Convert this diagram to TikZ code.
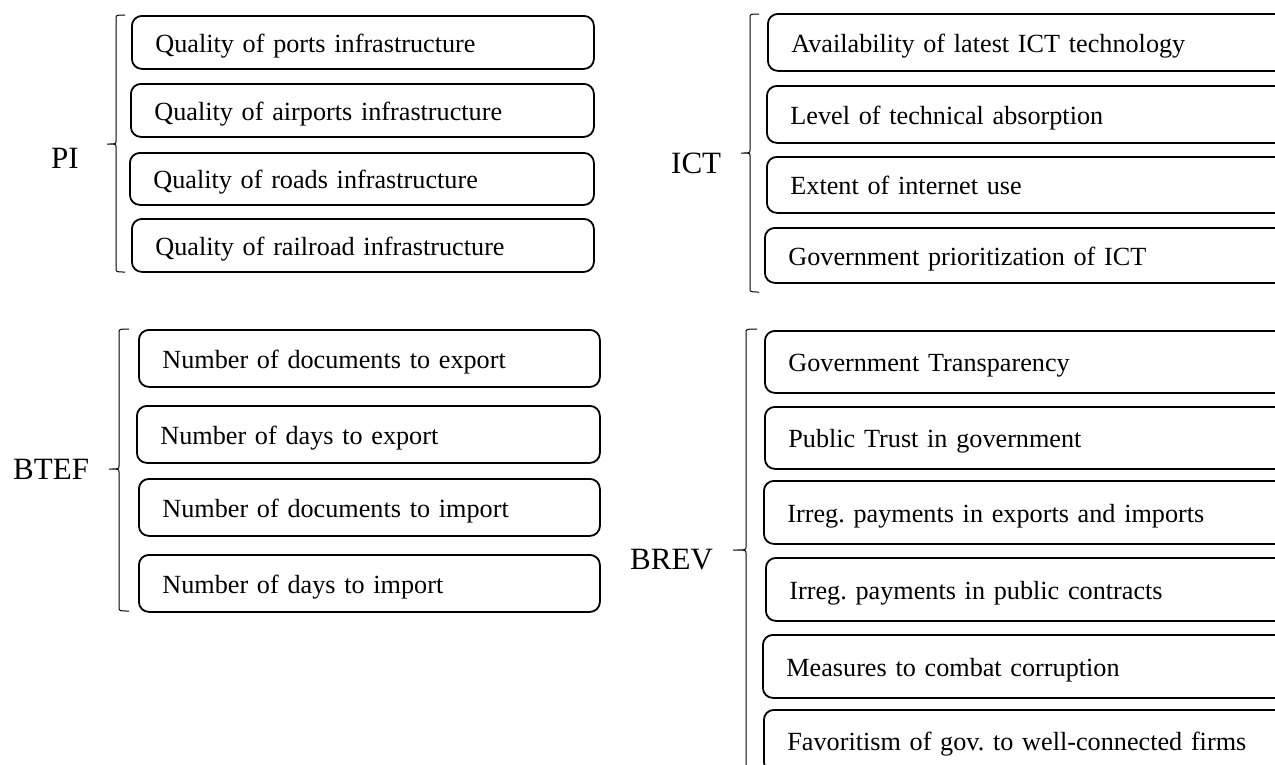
\documentclass[tikz,border=0pt]{standalone}
\usepackage{fontspec}
\setmainfont{Liberation Serif}
\frenchspacing
\tikzset{
    itembox/.style={draw, line width=1.8pt, rounded corners=10pt, anchor=north west, align=left,
        inner xsep=23.5pt, inner ysep=0pt, text height=20pt, text depth=0pt,
        font=\fontsize{26.2}{30}\selectfont},
    grouplabel/.style={anchor=base west, inner sep=0pt, font=\fontsize{31}{36}\selectfont},
    groupbrace/.style={line width=1pt}
}
\begin{document}
\begin{tikzpicture}[x=1pt,y=-1pt]
    \useasboundingbox (0,0) rectangle (1275,764);
    \clip (0,0) rectangle (1275,764);
    \fill[white] (0,0) rectangle (1275,764);

    \foreach \l/\t/\b/\txt [count=\i] in {131/15/68/Quality of ports infrastructure,
            130/83/136/Quality of airports infrastructure,
            129/152/204/Quality of roads infrastructure,
            131/218/271/Quality of railroad infrastructure}{
        \pgfmathsetmacro\w{593-\l-47}
        \pgfmathsetmacro\h{\b-\t}
        \node[itembox, text width=\w pt, minimum height=\h pt] (pi-\i) at (\l,\t) {\txt};
    }
    \foreach \l/\t/\b/\txt [count=\i] in {138/329/386/Number of documents to export,
            136/405/462/Number of days to export,
            138/478/535/Number of documents to import,
            138/554/611/Number of days to import}{
        \pgfmathsetmacro\w{599-\l-47}
        \pgfmathsetmacro\h{\b-\t}
        \node[itembox, text width=\w pt, minimum height=\h pt] (btef-\i) at (\l,\t) {\txt};
    }
    \foreach \l/\t/\b/\txt [count=\i] in {767/13/70/Availability of latest ICT technology,
            766/85/142/Level of technical absorption,
            766/156/212/Extent of internet use,
            764/227/282/Government prioritization of ICT}{
        \pgfmathsetmacro\w{1295-\l-47}
        \pgfmathsetmacro\h{\b-\t}
        \node[itembox, text width=\w pt, minimum height=\h pt] (ict-\i) at (\l,\t) {\txt};
    }
    \foreach \l/\t/\b/\txt [count=\i] in {764/330/392/Government Transparency,
            764/406/468/Public Trust in government,
            763/480/543/Irreg. payments in exports and imports,
            765/557/620/Irreg. payments in public contracts,
            762/634/697/Measures to combat corruption,
            763/709/771/Favoritism of gov. to well-connected firms}{
        \pgfmathsetmacro\w{1295-\l-47}
        \pgfmathsetmacro\h{\b-\t}
        \node[itembox, text width=\w pt, minimum height=\h pt] (brev-\i) at (\l,\t) {\txt};
    }

    \node[grouplabel] (pi) at (51,168) {PI};
    \node[grouplabel] (btef) at (13,479) {BTEF};
    \node[grouplabel] (ict) at (671,173) {ICT};
    \node[grouplabel] (brev) at (630,569) {BREV};

    \draw[groupbrace] (125,15) .. controls (116,15) .. (116,19) -- (116,141) .. controls (116,144) .. (107,144)
        .. controls (116,144) .. (116,147) -- (116,268) .. controls (116,272) .. (125,272);
    \draw[groupbrace] (129,329) .. controls (119,329) .. (119,333) -- (119,466) .. controls (119,469) .. (109,469)
        .. controls (119,469) .. (119,472) -- (119,607) .. controls (119,611) .. (129,611);
    \draw[groupbrace] (759,14) .. controls (750,14) .. (750,18) -- (750,150) .. controls (750,153) .. (741,153)
        .. controls (750,153) .. (750,156) -- (750,288) .. controls (750,292) .. (759,292);
    \draw[groupbrace] (757,329) .. controls (746,329) .. (746,333) -- (746,547) .. controls (746,550) .. (733,550)
        .. controls (746,550) .. (746,553) -- (746,767) .. controls (746,771) .. (757,771);

\end{tikzpicture}
\end{document}
